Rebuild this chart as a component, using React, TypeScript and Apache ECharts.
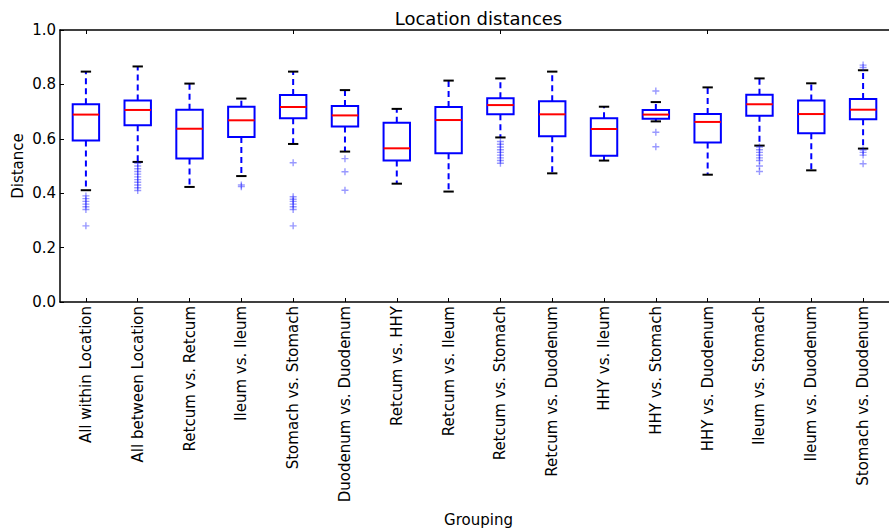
import React, { useEffect, useRef } from "react";
import * as echarts from "echarts";

const categories = [
  "All within Location",
  "All between Location",
  "Retcum vs. Retcum",
  "Ileum vs. Ileum",
  "Stomach vs. Stomach",
  "Duodenum vs. Duodenum",
  "Retcum vs. HHY",
  "Retcum vs. Ileum",
  "Retcum vs. Stomach",
  "Retcum vs. Duodenum",
  "HHY vs. Ileum",
  "HHY vs. Stomach",
  "HHY vs. Duodenum",
  "Ileum vs. Stomach",
  "Ileum vs. Duodenum",
  "Stomach vs. Duodenum",
];

const whiskerLow = [0.411, 0.515, 0.423, 0.463, 0.581, 0.553, 0.435, 0.406, 0.605, 0.473, 0.52, 0.664, 0.468, 0.575, 0.484, 0.564];
const q1 = [0.594, 0.65, 0.528, 0.607, 0.676, 0.645, 0.52, 0.547, 0.69, 0.609, 0.538, 0.674, 0.586, 0.685, 0.62, 0.672];
const median = [0.689, 0.706, 0.637, 0.668, 0.717, 0.686, 0.565, 0.669, 0.724, 0.69, 0.636, 0.689, 0.662, 0.727, 0.691, 0.707];
const q3 = [0.727, 0.741, 0.707, 0.718, 0.761, 0.721, 0.659, 0.717, 0.749, 0.738, 0.676, 0.706, 0.691, 0.762, 0.741, 0.746];
const whiskerHigh = [0.847, 0.866, 0.803, 0.748, 0.847, 0.779, 0.71, 0.814, 0.822, 0.847, 0.718, 0.735, 0.789, 0.822, 0.804, 0.852];

const outliers: number[][] = [
  [0.39, 0.38, 0.37, 0.36, 0.35, 0.34, 0.28],
  [0.51, 0.5, 0.49, 0.48, 0.47, 0.46, 0.45, 0.44, 0.43, 0.42, 0.41],
  [],
  [0.43, 0.424],
  [0.512, 0.387, 0.378, 0.37, 0.36, 0.35, 0.34, 0.28],
  [0.527, 0.479, 0.411],
  [],
  [],
  [0.59, 0.58, 0.57, 0.56, 0.55, 0.54, 0.53, 0.52, 0.51],
  [],
  [],
  [0.776, 0.624, 0.571],
  [],
  [0.57, 0.56, 0.55, 0.54, 0.53, 0.52, 0.5, 0.48],
  [],
  [0.871, 0.862, 0.559, 0.55, 0.54, 0.508],
];

const yTicks = [0, 0.2, 0.4, 0.6, 0.8, 1.0];

const FONT = "DejaVu Sans";

export default function App() {
  const ref = useRef<HTMLDivElement>(null);
  useEffect(() => {
    if (!ref.current) return;
    const chart = echarts.init(ref.current, undefined, { renderer: "svg" });
    const boxData = categories.map((_, i) => [i, whiskerLow[i], q1[i], median[i], q3[i], whiskerHigh[i]]);
    const outlierData: number[][] = [];
    outliers.forEach((arr, i) => arr.forEach((v) => outlierData.push([i, v])));

    const gridLeft = 60;
    const gridTop = 30;
    const gridWidth = 837;
    const gridHeight = 272;
    const cx = gridLeft + gridWidth / 2;

    chart.setOption({
      animation: false,
      backgroundColor: "#ffffff",
      textStyle: { fontFamily: FONT },
      grid: { left: gridLeft, top: gridTop, width: gridWidth, height: gridHeight, containLabel: false },
      xAxis: [
        {
          type: "category",
          data: categories,
          position: "bottom",
          boundaryGap: true,
          axisLine: { show: true, lineStyle: { color: "#000", width: 1.5 } },
          axisTick: { show: true, inside: true, length: 4, alignWithLabel: true, lineStyle: { color: "#000" } },
          axisLabel: {
            rotate: 90,
            interval: 0,
            margin: 4,
            color: "#000",
            fontSize: 15,
            fontFamily: FONT,
          },
          splitLine: { show: false },
        },
        {
          type: "category",
          data: categories,
          position: "top",
          boundaryGap: true,
          axisLine: { show: true, lineStyle: { color: "#000", width: 1.5 } },
          axisTick: { show: true, inside: true, length: 4, alignWithLabel: true, lineStyle: { color: "#000" } },
          axisLabel: { show: false },
          splitLine: { show: false },
        },
      ],
      yAxis: {
        type: "value",
        min: 0,
        max: 1,
        interval: 0.2,
        axisLine: { show: true, lineStyle: { color: "#000", width: 1.5 } },
        axisTick: { show: true, inside: true, length: 4, lineStyle: { color: "#000" } },
        axisLabel: {
          color: "#000",
          fontSize: 15,
          fontFamily: FONT,
          margin: 4,
          formatter: (v: number) => (yTicks.some((t) => Math.abs(t - v) < 1e-9) ? v.toFixed(1) : ""),
        },
        splitLine: { show: false },
      },
      graphic: [
        {
          type: "text",
          x: cx,
          y: 18.5,
          style: { text: "Location distances", fontSize: 18, fontFamily: FONT, fill: "#000", textAlign: "center", textVerticalAlign: "middle" },
        },
        {
          type: "text",
          x: cx,
          y: 520,
          style: { text: "Grouping", fontSize: 15, fontFamily: FONT, fill: "#000", textAlign: "center", textVerticalAlign: "middle" },
        },
        {
          type: "text",
          x: 18,
          y: gridTop + gridHeight / 2,
          rotation: Math.PI / 2,
          style: { text: "Distance", fontSize: 15, fontFamily: FONT, fill: "#000", textAlign: "center", textVerticalAlign: "middle" },
        },
      ],
      series: [
        {
          type: "custom",
          xAxisIndex: 0,
          encode: { x: 0, y: [1, 2, 3, 4, 5] },
          data: boxData,
          renderItem: (params: any, api: any) => {
            const idx = api.value(0);
            const pLo = api.coord([idx, api.value(1)]);
            const pQ1 = api.coord([idx, api.value(2)]);
            const pMed = api.coord([idx, api.value(3)]);
            const pQ3 = api.coord([idx, api.value(4)]);
            const pHi = api.coord([idx, api.value(5)]);
            const band = api.size([1, 0])[0];
            const bw = band * 0.51;
            const cw = band * 0.2;
            const x = pMed[0];
            const blue = "#0000ff";
            return {
              type: "group",
              children: [
                { type: "line", shape: { x1: x, y1: pQ3[1], x2: x, y2: pHi[1] }, style: { stroke: blue, lineWidth: 2, lineDash: [6, 4] } },
                { type: "line", shape: { x1: x, y1: pQ1[1], x2: x, y2: pLo[1] }, style: { stroke: blue, lineWidth: 2, lineDash: [6, 4] } },
                { type: "rect", shape: { x: x - bw / 2, y: pQ3[1], width: bw, height: pQ1[1] - pQ3[1] }, style: { stroke: blue, fill: "none", lineWidth: 2 } },
                { type: "line", shape: { x1: x - bw / 2, y1: pMed[1], x2: x + bw / 2, y2: pMed[1] }, style: { stroke: "#ff0000", lineWidth: 2 } },
                { type: "line", shape: { x1: x - cw / 2, y1: pHi[1], x2: x + cw / 2, y2: pHi[1] }, style: { stroke: "#000", lineWidth: 2 } },
                { type: "line", shape: { x1: x - cw / 2, y1: pLo[1], x2: x + cw / 2, y2: pLo[1] }, style: { stroke: "#000", lineWidth: 2 } },
              ],
            };
          },
          z: 2,
        },
        {
          type: "scatter",
          xAxisIndex: 0,
          data: outlierData,
          symbol: "path://M4,0H6V4H10V6H6V10H4V6H0V4H4Z",
          symbolSize: 7,
          itemStyle: { color: "rgba(0,0,255,0.5)" },
          z: 3,
        },
      ],
    });
    return () => chart.dispose();
  }, []);
  return <div ref={ref} style={{ position: "fixed", left: 0, top: 0, width: 889, height: 532 }} />;
}
